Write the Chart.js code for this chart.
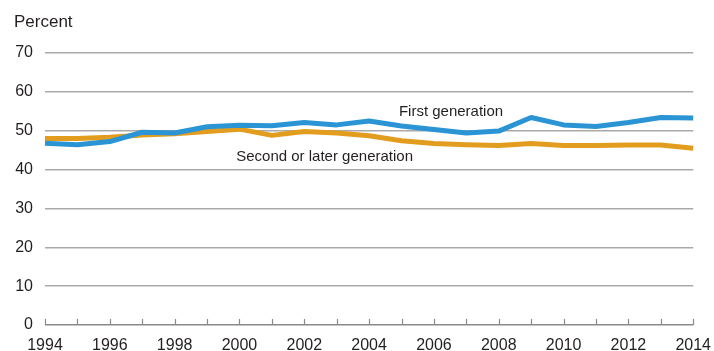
<!DOCTYPE html>
<html lang="en">
<head>
    <meta charset="UTF-8">
    <title>First vs. second or later generation</title>
    <style>
        html, body { margin: 0; padding: 0; background: #fff; }
        #wrap { width: 714px; height: 351px; }
    </style>
</head>
<body>
<div id="wrap"><canvas id="chart" width="714" height="351"></canvas></div>
<script src="https://cdn.jsdelivr.net/npm/chart.js"></script>
<script>
    const years = ['1994','1995','1996','1997','1998','1999','2000','2001','2002','2003','2004',
                   '2005','2006','2007','2008','2009','2010','2011','2012','2013','2014'];
    const firstGen = [46.8, 46.4, 47.2, 49.6, 49.4, 51.0, 51.4, 51.3, 52.1, 51.5, 52.5,
                      51.2, 50.3, 49.4, 49.9, 53.4, 51.5, 51.1, 52.1, 53.4, 53.3];
    const laterGen = [48.0, 48.0, 48.3, 48.9, 49.2, 49.8, 50.4, 48.8, 49.8, 49.4, 48.7,
                      47.4, 46.7, 46.4, 46.2, 46.7, 46.2, 46.2, 46.3, 46.3, 45.5];
    const yTicks = [0, 10, 20, 30, 40, 50, 60, 70];

    // series labels placed next to their lines: [text, year index, value]
    const seriesNotes = [
        ['First generation', 10.92, 54.9],
        ['Second or later generation', 5.9, 43.3]
    ];

    const FONT = '"Liberation Sans", Arial, sans-serif';
    const TEXT = '#231f20';

    const notes = {
        id: 'notes',
        afterDraw(chart) {
            const { ctx, scales: { x, y } } = chart;
            ctx.save();
            // year tick marks standing on the zero line
            ctx.strokeStyle = '#8a8a8a';
            ctx.lineWidth = 1.2;
            years.forEach((yr, i) => {
                const px = Math.round(x.getPixelForValue(i)) + 0.5;
                ctx.beginPath();
                ctx.moveTo(px, y.getPixelForValue(0));
                ctx.lineTo(px, y.getPixelForValue(0) - 6);
                ctx.stroke();
            });
            ctx.fillStyle = TEXT;
            ctx.font = '15px ' + FONT;
            ctx.textBaseline = 'middle';
            ctx.textAlign = 'left';
            seriesNotes.forEach(([t, i, v]) => {
                ctx.fillText(t, x.getPixelForValue(i), y.getPixelForValue(v));
            });
            ctx.font = '17px ' + FONT;
            ctx.textBaseline = 'alphabetic';
            ctx.fillText('Percent', 14, 27);
            ctx.restore();
        }
    };

    new Chart(document.getElementById('chart'), {
        type: 'line',
        data: {
            labels: years,
            datasets: [
                { label: 'First generation', data: firstGen, borderColor: '#2a94d5',
                  borderWidth: 5, pointRadius: 0, tension: 0, borderJoinStyle: 'round' },
                { label: 'Second or later generation', data: laterGen, borderColor: '#e39d1e',
                  borderWidth: 5, pointRadius: 0, tension: 0, borderJoinStyle: 'round' }
            ]
        },
        options: {
            responsive: false,
            animation: false,
            layout: { padding: { top: 53, right: 0, left: 0, bottom: 0 } },
            plugins: { legend: { display: false }, tooltip: { enabled: false } },
            scales: {
                x: {
                    offset: false,
                    grid: { display: false },
                    border: { display: false },
                    afterFit: s => { s.height = 26; },
                    ticks: {
                        autoSkip: false, maxRotation: 0, padding: 3,
                        color: TEXT, font: { family: FONT, size: 16 },
                        callback: (v, i) => (i % 2 === 0 ? years[i] : '')
                    }
                },
                y: {
                    min: 0, max: 70,
                    afterFit: s => { s.width = 45; },
                    afterBuildTicks: s => { s.ticks = yTicks.map(v => ({ value: v })); },
                    border: { display: false },
                    grid: {
                        drawTicks: false,
                        lineWidth: 1.5,
                        color: c => (c.tick.value === 0 ? '#8a8a8a' : '#a9a9a9')
                    },
                    ticks: { padding: 12, color: TEXT, font: { family: FONT, size: 16 } }
                }
            }
        },
        plugins: [notes]
    });
</script>
</body>
</html>
